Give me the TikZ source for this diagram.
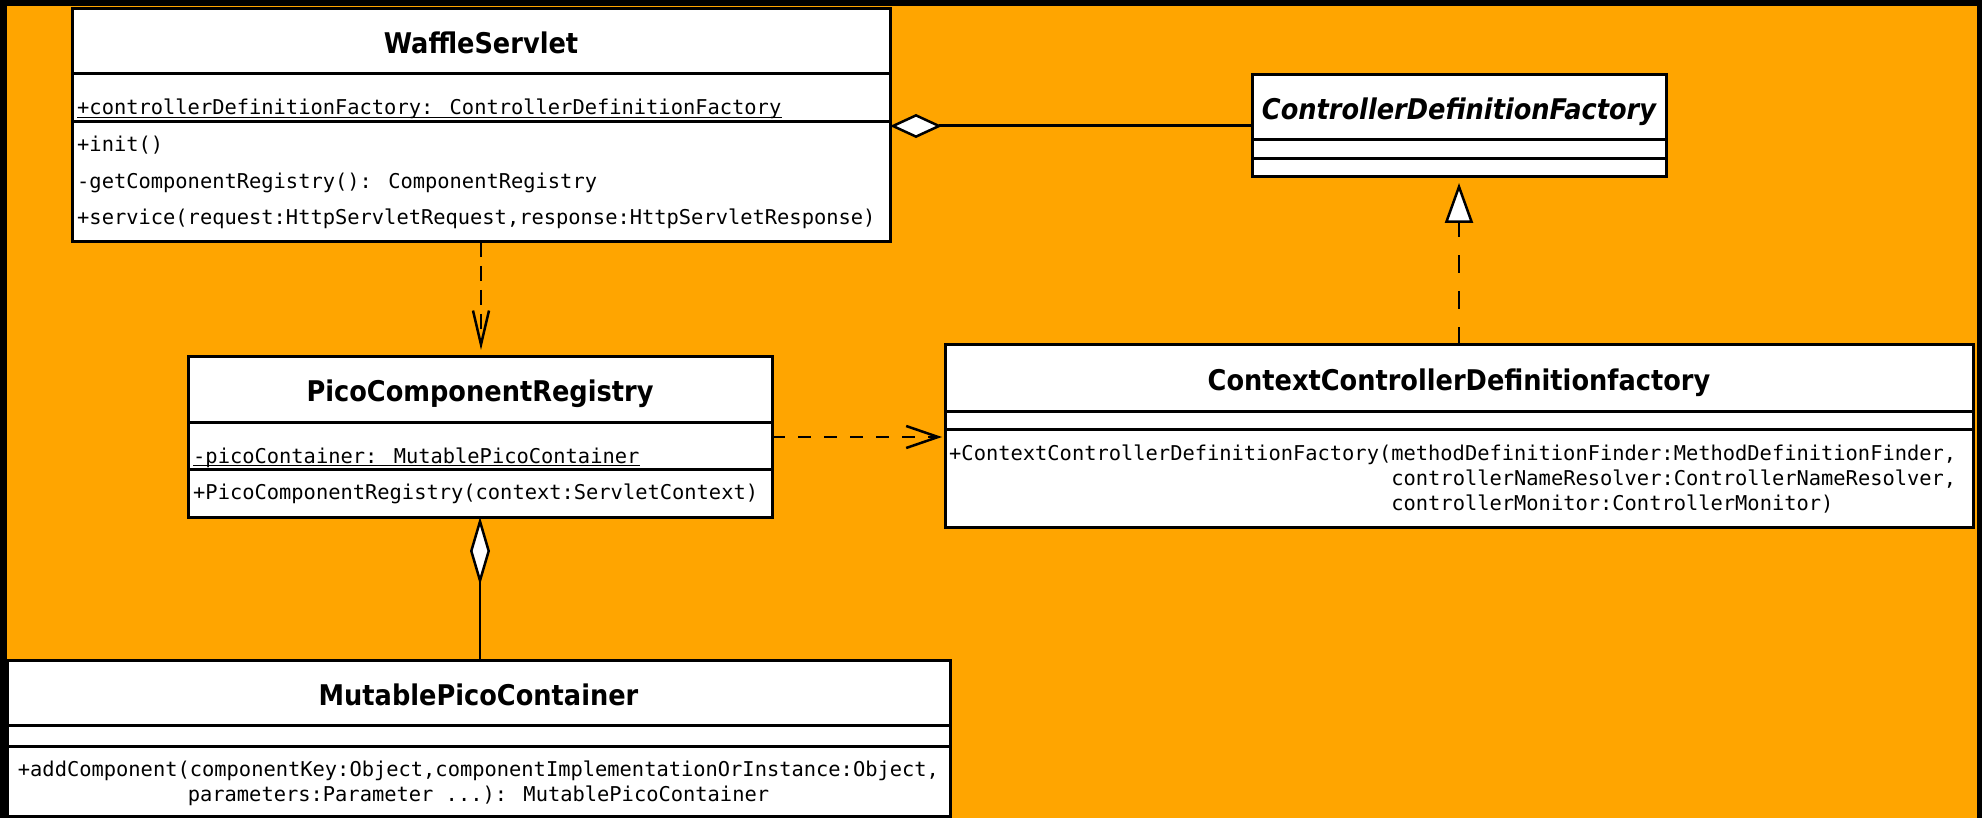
\documentclass[tikz,border=0pt]{standalone}
\usepackage{fontspec}
\newfontfamily\umlsans[FakeStretch=0.9, BoldFont={DejaVu Sans Bold}, BoldItalicFont={DejaVu Sans Bold Oblique}]{DejaVu Sans}
\newfontfamily\umlmono{DejaVu Sans Mono}
\usetikzlibrary{arrows.meta}
\definecolor{diagramorange}{RGB}{255,165,0}

\tikzset{
  compartment/.style={draw, line width=3pt, fill=white, anchor=north west, inner sep=0pt, outer sep=0pt},
  classname/.style={compartment, font=\umlsans\bfseries\fontsize{28.5}{34}\selectfont, text height=25pt, text depth=0pt},
  member/.style={anchor=base west, inner sep=0pt, font=\umlmono\fontsize{20.4}{25}\selectfont},
  staticline/.style={line width=1.5pt},
  dependency/.style={line width=2.5pt, dash pattern=on 13pt off 13pt, -{Straight Barb[length=32pt, width=22pt, line width=2.5pt]}},
  realization/.style={line width=2pt, dash pattern=on 18pt off 18pt, -{Triangle[fill=white, length=40pt, width=28pt, line width=2.5pt]}},
  aggregation/.style={line width=3pt, {Diamond[fill=white, length=52pt, width=24pt, line width=2.5pt]}-},
  composition/.style={line width=2pt, {Diamond[fill=white, length=68pt, width=20pt, line width=2.5pt]}-},
}

\begin{document}
\begin{tikzpicture}[x=1pt, y=-1pt]

    %% Frame and background
    \fill[black] (0,0) rectangle (1982,818);
    \fill[diagramorange] (7,6) rectangle (1977,818);

    % WaffleServlet
    \node[classname, minimum width=818pt, minimum height=65pt] (ws) at (72,9) {WaffleServlet};
    \node[compartment, minimum width=818pt, minimum height=48pt] (wsattr) at (72,74) {};
    \node[compartment, minimum width=818pt, minimum height=120pt] (wsops) at (72,122) {};
    \node[member] (wsfactory) at (77,115) {+controllerDefinitionFactory: ControllerDefinitionFactory};
    \draw[staticline] ([yshift=-2.5pt]wsfactory.base west) -- ([yshift=-2.5pt]wsfactory.base east);
    \node[member] (wsinit) at (77,152) {+init()};
    \node[member] (wsregistry) at (77,189) {-getComponentRegistry(): ComponentRegistry};
    \node[member] (wsservice) at (77,225) {+service(request:HttpServletRequest,response:HttpServletResponse)};

    % ControllerDefinitionFactory
    \node[classname, minimum width=414pt, minimum height=65pt] (cdf) at (1252,75) {\itshape ControllerDefinitionFactory};
    \node[compartment, minimum width=414pt, minimum height=19pt] (cdfattr) at (1252,140) {};
    \node[compartment, minimum width=414pt, minimum height=18pt] (cdfops) at (1252,159) {};

    % PicoComponentRegistry
    \node[classname, minimum width=584pt, minimum height=65pt] (pcr) at (188,357) {PicoComponentRegistry};
    \node[compartment, minimum width=584pt, minimum height=47pt] (pcrattr) at (188,422) {};
    \node[compartment, minimum width=584pt, minimum height=48pt] (pcrops) at (188,469) {};
    \node[member] (pcrcontainer) at (193,463) {-picoContainer: MutablePicoContainer};
    \draw[staticline] ([yshift=-2.5pt]pcrcontainer.base west) -- ([yshift=-2.5pt]pcrcontainer.base east);
    \node[member] (pcrinit) at (193,499) {+PicoComponentRegistry(context:ServletContext)};

    % ContextControllerDefinitionfactory
    \node[classname, minimum width=1028pt, minimum height=66pt] (ccdf) at (945,345) {ContextControllerDefinitionfactory};
    \node[compartment, minimum width=1028pt, minimum height=18pt] (ccdfattr) at (945,411) {};
    \node[compartment, minimum width=1028pt, minimum height=98pt] (ccdfops) at (945,429) {};
    \node[member] (ccdfinit) at (949,460) {+ContextControllerDefinitionFactory(methodDefinitionFinder:MethodDefinitionFinder,};
    \node[member] (ccdfresolver) at (949,485) {\phantom{+ContextControllerDefinitionFactory(}controllerNameResolver:ControllerNameResolver,};
    \node[member] (ccdfmonitor) at (949,510) {\phantom{+ContextControllerDefinitionFactory(}controllerMonitor:ControllerMonitor)};

    % MutablePicoContainer
    \node[classname, minimum width=943pt, minimum height=65pt] (mpc) at (7,660) {MutablePicoContainer};
    \node[compartment, minimum width=943pt, minimum height=21pt] (mpcattr) at (7,725) {};
    \node[compartment, minimum width=943pt, minimum height=70pt] (mpcops) at (7,746) {};
    \node[member, anchor=base] (mpcadd) at (478.5,776) {+addComponent(componentKey:Object,componentImplementationOrInstance:Object,};
    \node[member, anchor=base] (mpcparams) at (478.5,801) {parameters:Parameter ...): MutablePicoContainer};

    %% Relations
    % Aggregation
    \coordinate (wsagg) at ([yshift=-4pt]wsops.north east);
    \draw[aggregation] (wsagg) -- (wsagg -| cdf.west);

    % Realization
    \draw[realization, shorten >=6pt] (ccdf.north) -- (cdfops.south);

    % Dependencies
    \draw[dependency, dash pattern=on 15pt off 9pt, -{Straight Barb[length=34pt, width=16pt, line width=2.5pt]}, shorten >=7pt] (wsops.south) -- (wsops.south |- pcr.north);
    \coordinate (pcrdep) at ([yshift=-15pt]pcrattr.north east);
    \draw[dependency, shorten >=3pt] (pcrdep) -- (pcrdep -| ccdf.west);

    % Composition
    \draw[composition] (pcrops.south) -- (pcrops.south |- mpc.north);

\end{tikzpicture}
\end{document}
